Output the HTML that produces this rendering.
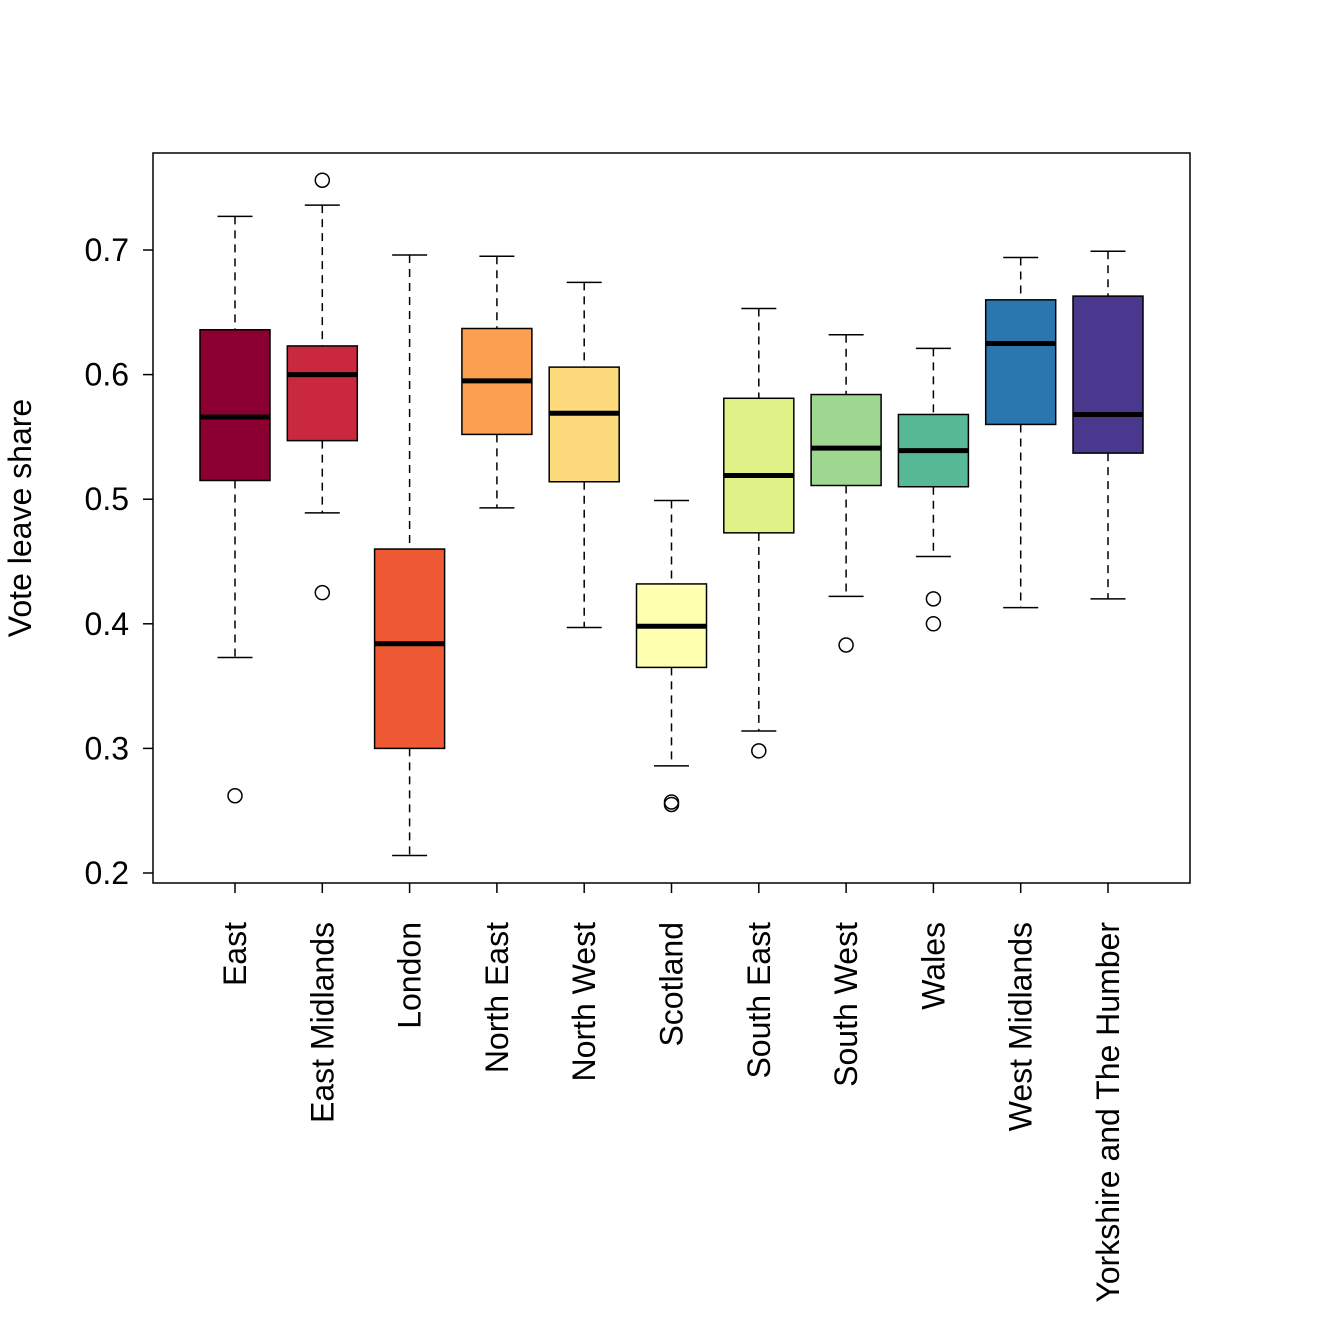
<!DOCTYPE html>
<html><head><meta charset="utf-8"><style>body{margin:0;background:#fff}svg{display:block}</style></head>
<body>
<svg id="chart" width="1344" height="1344" xmlns="http://www.w3.org/2000/svg" font-family="Liberation Sans, Arial, sans-serif"></svg>
<script>
const categories=["East","East Midlands","London","North East","North West","Scotland","South East","South West","Wales","West Midlands","Yorkshire and The Humber"];
const whiskerHigh=[0.727,0.736,0.696,0.695,0.674,0.499,0.653,0.632,0.621,0.694,0.699];
const q3=[0.636,0.623,0.460,0.637,0.606,0.432,0.581,0.584,0.568,0.660,0.663];
const medians=[0.566,0.600,0.384,0.595,0.569,0.398,0.519,0.541,0.539,0.625,0.568];
const q1=[0.515,0.547,0.300,0.552,0.514,0.365,0.473,0.511,0.510,0.560,0.537];
const whiskerLow=[0.373,0.489,0.214,0.493,0.397,0.286,0.314,0.422,0.454,0.413,0.420];
const outliers=[[0.262],[0.756,0.425],[],[],[],[0.257,0.255],[0.298],[0.383],[0.420,0.400],[],[]];
const colors=["#8B0030","#C9283F","#EF5A35","#FBA050","#FDDA7C","#FFFFB0","#E0F287","#9ED890","#57B995","#2A76AF","#4A378E"];
const yTicks=[0.2,0.3,0.4,0.5,0.6,0.7];
const NS="http://www.w3.org/2000/svg";
const svg=document.getElementById('chart');
const y=v=>873-(v-0.2)*1246;
const x=i=>235+i*87.3;
function el(t,a,p){const e=document.createElementNS(NS,t);for(const k in a)e.setAttribute(k,a[k]);(p||svg).appendChild(e);return e;}
const frame=el('rect',{x:153,y:153,width:1037,height:730,fill:'none',stroke:'#000','stroke-width':1.5});


yTicks.forEach(t=>{
  const g=el('g',{});
  
  
  el('line',{x1:143,x2:153,y1:y(t),y2:y(t),stroke:'#000','stroke-width':1.5},g);
  const tx=el('text',{x:129,y:y(t)+11,'text-anchor':'end','font-size':32},g);tx.textContent=t.toFixed(1);
});
const yl=el('text',{x:0,y:0,transform:'translate(31,518) rotate(-90)','text-anchor':'middle','font-size':32});
yl.textContent='Vote leave share';


categories.forEach((c,i)=>{
  const cx=x(i);
  const g=el('g',{});
  
  
  const s={stroke:'#000','stroke-width':1.5};
  el('line',{x1:cx,x2:cx,y1:y(whiskerHigh[i]),y2:y(q3[i]),...s,'stroke-dasharray':'8,6'},g);
  el('line',{x1:cx,x2:cx,y1:y(q1[i]),y2:y(whiskerLow[i]),...s,'stroke-dasharray':'8,6'},g);
  el('line',{x1:cx-17.5,x2:cx+17.5,y1:y(whiskerHigh[i]),y2:y(whiskerHigh[i]),...s},g);
  el('line',{x1:cx-17.5,x2:cx+17.5,y1:y(whiskerLow[i]),y2:y(whiskerLow[i]),...s},g);
  el('rect',{x:cx-35,y:y(q3[i]),width:70,height:y(q1[i])-y(q3[i]),fill:colors[i],...s},g);
  el('line',{x1:cx-35,x2:cx+35,y1:y(medians[i]),y2:y(medians[i]),stroke:'#000','stroke-width':5},g);
  outliers[i].forEach(o=>el('circle',{cx:cx,cy:y(o),r:7,fill:'none',...s},g));
  el('line',{x1:cx,x2:cx,y1:883,y2:893,...s},g);
  const lt=el('text',{x:0,y:0,transform:`translate(${cx+11},922) rotate(-90)`,'text-anchor':'end','font-size':32});
  lt.textContent=c;
  
  
});
</script>
</body></html>
